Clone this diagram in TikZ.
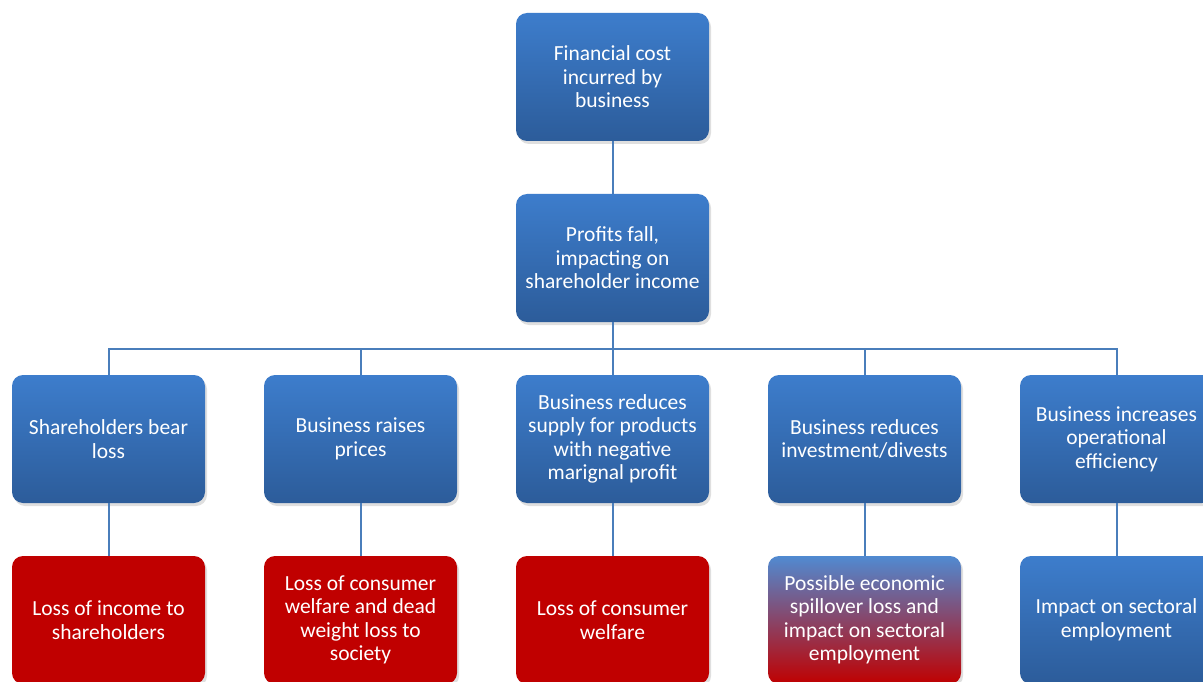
\documentclass[tikz,border=0pt]{standalone}
\usepackage{fontspec}
\setmainfont{Carlito}
\usetikzlibrary{positioning,shadows}

\definecolor{boxtop}{HTML}{3D7DCC}
\definecolor{boxbot}{HTML}{2C5C9A}
\definecolor{lossred}{HTML}{C00000}
\definecolor{linkblue}{HTML}{4A7EBB}

\begin{document}
\begin{tikzpicture}[x=1pt,y=-1pt]
\tikzstyle{every node}+=[inner sep=0pt]
\tikzstyle{stepbox}=[rectangle, rounded corners=11pt, minimum width=193pt, minimum height=128pt,
  align=center, text=white, font=\fontsize{21.5}{23.5}\selectfont,
  top color=boxtop, bottom color=boxbot,
  drop shadow={opacity=0.25, shadow xshift=2pt, shadow yshift=-3pt}]
\tikzstyle{lossbox}=[stepbox, top color=lossred, bottom color=lossred]
\tikzstyle{mixbox}=[stepbox, top color=boxtop!90!white, bottom color=lossred]
\tikzstyle{link}=[draw=linkblue, line width=2pt]
\useasboundingbox (0,0) rectangle (1203,682);
\fill[white] (0,0) rectangle (1203,682);
% top of the tree
\node[stepbox] (cost) at (612.5,77) {Financial cost\\incurred by\\business};
\node[stepbox] (profit) at (612.5,258) {Profits fall,\\impacting on\\shareholder income};
% responses
\node[stepbox] (share) at (108.5,439) {Shareholders bear\\loss};
\node[stepbox] (prices) at (360.5,439) {Business raises\\prices};
\node[stepbox] (supply) at (612.5,439) {Business reduces\\supply for products\\with negative\\marignal profit};
\node[stepbox] (invest) at (864.5,439) {Business reduces\\investment/divests};
\node[stepbox] (effic) at (1116.5,439) {Business increases\\operational\\efficiency};
% outcomes
\node[lossbox] (income) at (108.5,620) {Loss of income to\\shareholders};
\node[lossbox] (welfare) at (360.5,620) {Loss of consumer\\welfare and dead\\weight loss to\\society};
\node[lossbox] (consumer) at (612.5,620) {Loss of consumer\\welfare};
\node[mixbox] (spill) at (864.5,620) {Possible economic\\spillover loss and\\impact on sectoral\\employment};
\node[stepbox] (employ) at (1116.5,620) {Impact on sectoral\\employment};
% connectors
\coordinate (bus) at (612.5,349);
\draw[link] (cost) -- (profit);
\draw[link] (profit) -- (bus);
\foreach \r in {share,prices,supply,invest,effic}
  \draw[link] (bus) -| (\r.north);
\foreach \a/\b in {share/income,prices/welfare,supply/consumer,invest/spill,effic/employ}
  \draw[link] (\a) -- (\b);
\end{tikzpicture}
\end{document}
